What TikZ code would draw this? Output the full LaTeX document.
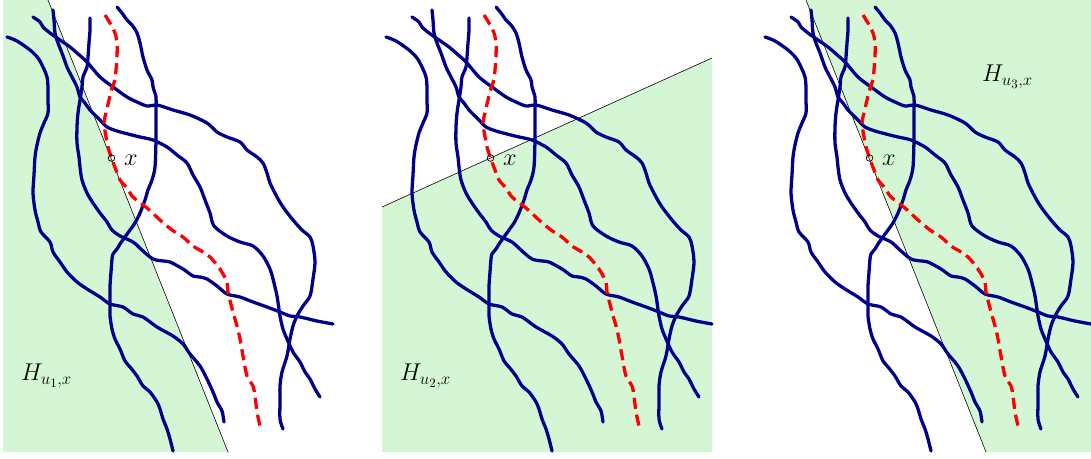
\documentclass[tikz,border=0pt]{standalone}
\definecolor{bluec}{RGB}{0,0,140}
\definecolor{greenc}{RGB}{212,246,212}
\tikzset{
  bc/.style={draw=bluec, line width=2.8pt, line cap=round, line join=round},
  rc/.style={draw=red, line width=2.8pt, dash pattern=on 9.5pt off 5pt, line join=round},
  halfline/.style={draw=black, line width=0.5pt},
  region/.style={fill=greenc, draw=none},
  ptmark/.style={circle, draw=black, line width=0.6pt, inner sep=0pt, minimum size=0.2cm},
  lab/.style={inner sep=0pt, font=\fontsize{20}{24}\selectfont},
  hlab/.style={inner sep=0pt, anchor=base west, font=\fontsize{22}{26}\selectfont},
}
\newcommand\allcurves{%
  % C1 leftmost
  \draw[bc] plot[smooth, tension=0.5] coordinates {(7,37) (17,41) (30,50) (38,58) (43,67) (47,77) (48,87) (48,100) (48,113) (44,123) (40,133) (37,145) (35,157) (34,175) (33,193) (35,210) (38,222) (41,232) (50,242) (53,252) (60,262) (67,272) (77,282) (87,289) (100,297) (110,304) (123,307) (133,314) (143,317) (157,327) (173,336) (183,344) (190,354) (200,366) (207,379) (213,392) (217,402) (222,411) (224,422)};
  % C2
  \draw[bc] plot[smooth, tension=0.5] coordinates {(53,10) (54,20) (55,33) (58,43) (62,53) (67,67) (72,77) (77,87) (80,97) (85,103) (90,110) (100,120) (107,127) (117,131) (128,134) (140,137) (153,140) (167,147) (177,155) (187,163) (193,175) (200,187) (205,200) (210,213) (214,226) (227,236) (240,242) (253,246) (263,256) (270,269) (273,279) (277,296) (280,316) (283,329) (287,339) (293,352) (300,362) (305,372) (310,379) (315,389) (320,397)};
  % C3
  \draw[bc] plot[smooth, tension=0.5] coordinates {(33,17) (40,22) (43,27) (50,33) (60,40) (70,47) (77,53) (87,62) (100,77) (113,87) (127,97) (137,102) (147,106) (157,105) (173,110) (190,115) (207,123) (217,132) (227,137) (240,142) (247,150) (257,157) (263,163) (267,173) (270,183) (277,197) (283,207) (293,220) (302,230) (310,237) (313,246) (315,262) (313,279) (310,296) (303,306) (297,316) (293,326) (290,339) (287,356) (282,372) (280,386) (280,402) (280,419) (283,429)};
  % C4
  \draw[bc] plot[smooth, tension=0.5] coordinates {(90,18) (90,30) (89,43) (88,57) (87,67) (83,77) (82,87) (80,100) (78,113) (77,127) (77,143) (79,157) (80,167) (82,180) (87,193) (93,203) (100,213) (107,222) (112,230) (120,236) (133,242) (143,251) (153,259) (163,261) (170,262) (183,269) (193,276) (200,277) (207,279) (217,286) (227,294) (240,297) (253,302) (267,307) (280,312) (290,316) (300,317) (317,321) (333,324)};
  % C5
  \draw[bc] plot[smooth, tension=0.5] coordinates {(117,7) (122,13) (127,20) (132,25) (137,33) (140,43) (143,57) (147,70) (152,80) (153,87) (156,97) (156,107) (156,123) (156,140) (155,167) (152,180) (148,190) (145,200) (140,213) (135,223) (130,230) (125,237) (120,244) (117,249) (113,254) (112,259) (111,272) (110,286) (110,296) (110,306) (110,316) (112,329) (115,339) (120,349) (125,361) (130,367) (137,376) (143,386) (150,392) (157,402) (160,409) (163,419) (167,429) (170,439) (173,451)};
  % red path
  \draw[rc] plot[smooth, tension=0.5] coordinates {(105,15) (110,23) (115,33) (117,43) (117,57) (116,70) (115,80) (112,88) (109,100) (106,113) (104,123) (106,137) (108,147) (111.5,158) (116,170) (120,180) (127,188) (133,197) (147,208) (160,220) (172,230) (183,237) (193,246) (203,252) (210,257) (220,269) (227,282) (228,292) (233,312) (237,326) (240,339) (243,356) (247,376) (253,386) (255,396) (257,412) (260,426)};
}
\newcommand\xpoint[1]{%
  \node[ptmark] (p#1) at (111.5,158) {};
  \node[lab, anchor=west] (x#1) at (124,160) {$x$};
}
\begin{document}
\begin{tikzpicture}[x=0.03cm, y=-0.03cm]
\useasboundingbox (0,0) rectangle (1091,459);
% ---------- panel 1
\begin{scope}
  \coordinate (a1) at (48,0);
  \coordinate (b1) at (228,452);
  \fill[region] (3,0) -- (a1) -- (b1) -- (3,452) -- cycle;
  \draw[halfline] (a1) -- (b1);
  \allcurves
  \xpoint{1}
  \node[hlab] (h1) at (21,381) {$H_{u_1,x}$};
\end{scope}
% ---------- panel 2
\begin{scope}[shift={(379,0)}]
  \coordinate (a2) at (3,207);
  \coordinate (b2) at (333,58);
  \fill[region] (a2) -- (b2) -- (333,452) -- (3,452) -- cycle;
  \draw[halfline] (a2) -- (b2);
  \allcurves
  \xpoint{2}
  \node[hlab] (h2) at (21,381) {$H_{u_2,x}$};
\end{scope}
% ---------- panel 3
\begin{scope}[shift={(758,0)}]
  \coordinate (a3) at (48,0);
  \coordinate (b3) at (228,452);
  \fill[region] (a3) -- (333,0) -- (333,452) -- (b3) -- cycle;
  \draw[halfline] (a3) -- (b3);
  \allcurves
  \xpoint{3}
  \node[hlab] (h3) at (224,82) {$H_{u_3,x}$};
\end{scope}
\end{tikzpicture}
\end{document}
